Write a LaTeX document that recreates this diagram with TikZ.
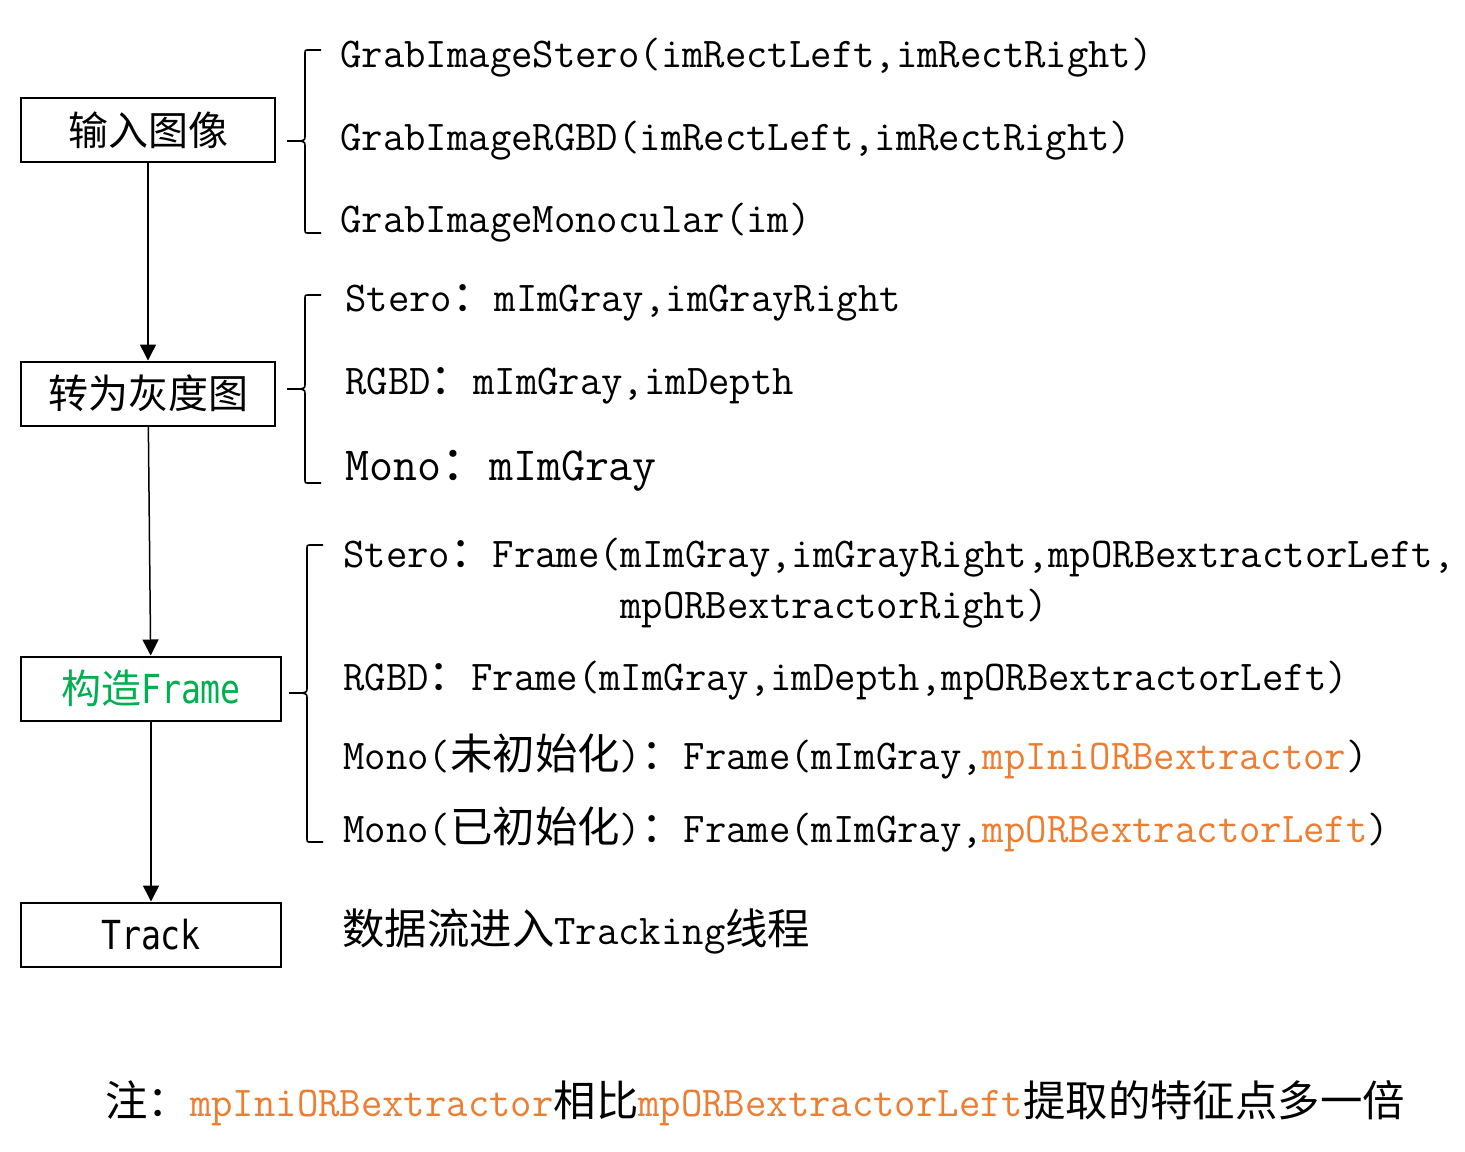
\documentclass[tikz,border=0pt]{standalone}
\usepackage{fontspec}
\setmainfont[FakeStretch=0.979]{Latin Modern Mono}
\newfontfamily\cjk{Noto Sans CJK SC}
\newfontfamily\boxsans[FakeStretch=0.83]{DejaVu Sans Mono}
\usetikzlibrary{arrows.meta}
\definecolor{framegreen}{RGB}{0,176,80}
\definecolor{ptrorange}{RGB}{237,125,49}
\newcommand{\zh}[1]{{\cjk #1}}
\newcommand{\ptr}[1]{\textcolor{ptrorange}{#1}}
\def\bracket(#1:#2:#3:#4){\draw[line width=0.8pt] (#1+16,#2) -- (#1+4,#2) .. controls (#1,#2) .. (#1,#2+4) -- (#1,#3-6) .. controls (#1,#3-1) .. (#1-5,#3) -- (#1-18,#3) (#1-5,#3) .. controls (#1,#3+1) .. (#1,#3+6) -- (#1,#4-4) .. controls (#1,#4) .. (#1+4,#4) -- (#1+16,#4);}

\begin{document}
\begin{tikzpicture}[x=0.5pt, y=-0.5pt,
	stepbox/.style={draw, line width=1pt, minimum height=32pt, inner sep=0pt, font=\fontsize{20}{24}\selectfont},
	flow/.style={line width=0.75pt, -{Triangle[length=8pt, width=8pt]}},
	call/.style={anchor=base west, inner sep=0pt, font=\fontsize{21.2}{25}\selectfont}]
			%%%%% START %%%%%
			\useasboundingbox (0,0) rectangle (1465,1151);
			
			\node[stepbox, minimum width=127pt] (input) at (148,130) {\zh{输入图像}};
			\node[stepbox, minimum width=127pt] (gray) at (148,393.5) {\zh{转为灰度图}};
			\node[stepbox, minimum width=130pt, text=framegreen] (frame) at (151,688.5) {\zh{构造}{\boxsans Frame}};
			\node[stepbox, minimum width=130pt] (track) at (151,934.5) {{\boxsans Track}};
			
			\draw[flow] (input) -- (gray);
			\draw[flow] (gray) -- (frame);
			\draw[flow] (frame) -- (track);
			
			\bracket(305:50:141:233)
			\bracket(305:295:389:483)
			\bracket(307:545:693:842)
			
			\node[call] (grabstereo) at (340,67) {GrabImageStero(imRectLeft,imRectRight)};
			\node[call] (grabrgbd) at (340,150) {GrabImageRGBD(imRectLeft,imRectRight)};
			\node[call] (grabmono) at (340,232) {GrabImageMonocular(im)};
			
			\node[call] (graystereo) at (345,311) {Stero\zh{：}mImGray,imGrayRight};
			\node[call] (grayrgbd) at (345,394) {RGBD\zh{：}mImGray,imDepth};
			\node[call, font=\fontsize{23.8}{28}\selectfont] (graymono) at (345,480) {Mono\zh{：}mImGray};
			
			\node[call] (framestereo) at (343,567) {Stero\zh{：}Frame(mImGray,imGrayRight,mpORBextractorLeft,};
			\node[call] (framestereob) at (620,618) {mpORBextractorRight)};
			\node[call] (framergbd) at (343,690) {RGBD\zh{：}Frame(mImGray,imDepth,mpORBextractorLeft)};
			\node[call] (framemonoini) at (343,769) {Mono(\zh{未初始化})\zh{：}Frame(mImGray,\ptr{mpIniORBextractor})};
			\node[call] (framemono) at (343,842) {Mono(\zh{已初始化})\zh{：}Frame(mImGray,\ptr{mpORBextractorLeft})};
			
			\node[call] (trackinfo) at (342,944) {\zh{数据流进入}Tracking\zh{线程}};
			
			\node[call] (note) at (105,1116) {\zh{注：}\ptr{mpIniORBextractor}\zh{相比}\ptr{mpORBextractorLeft}\zh{提取的特征点多一倍}};
			%%%%% END %%%%%
\end{tikzpicture}
\end{document}
